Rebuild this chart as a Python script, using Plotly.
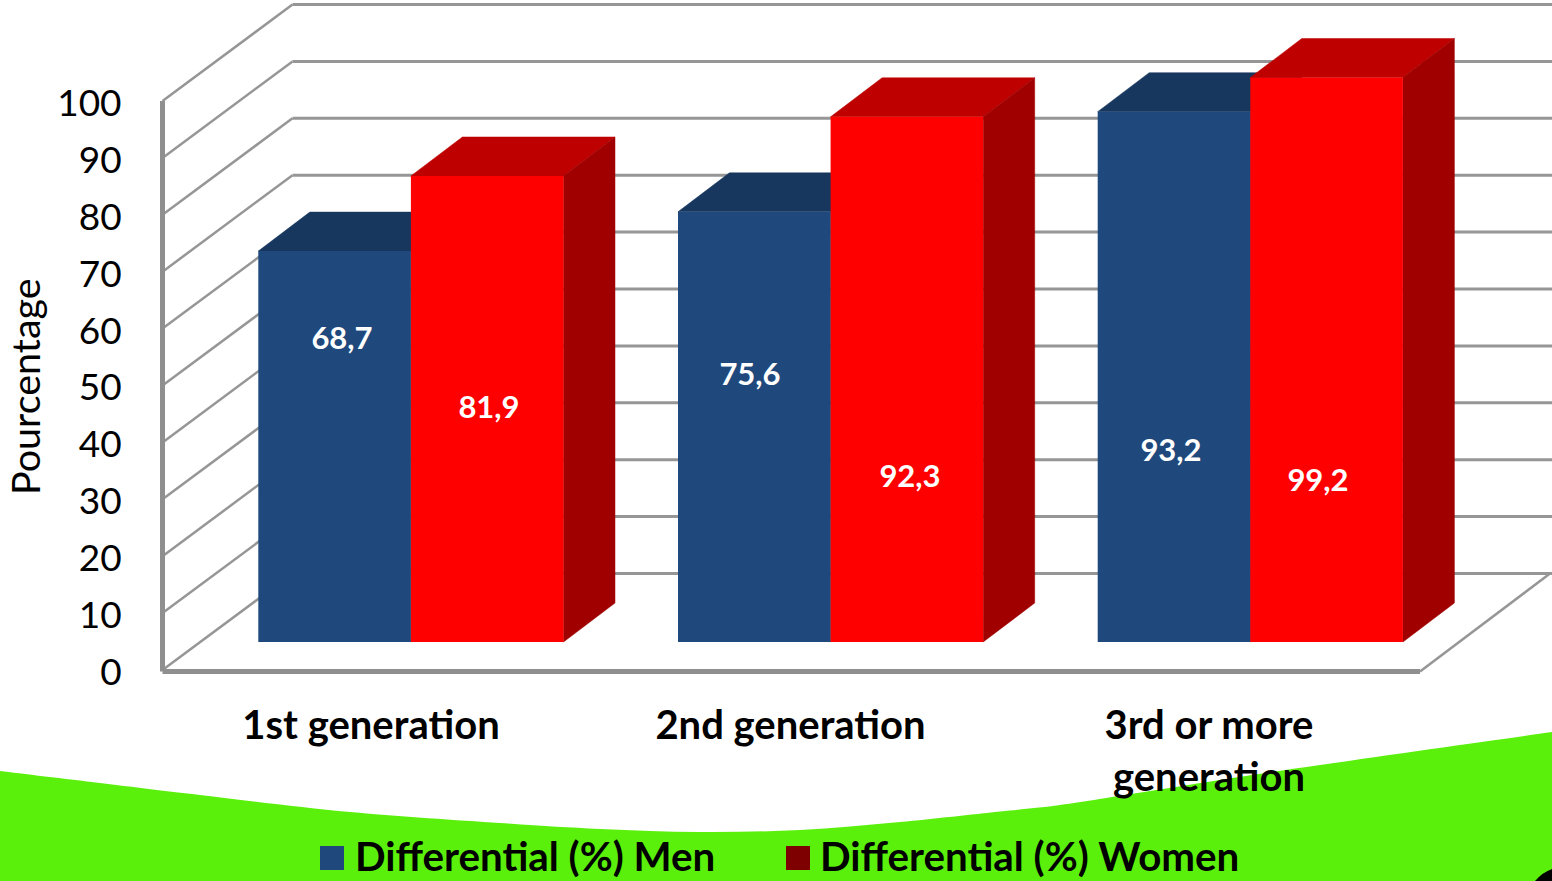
import plotly.graph_objects as go

# ---- data ----
categories = ["1st generation", "2nd generation", "3rd or more<br>generation"]
men_values = [68.7, 75.6, 93.2]
women_values = [81.9, 92.3, 99.2]
men_labels = ["68,7", "75,6", "93,2"]
women_labels = ["81,9", "92,3", "99,2"]
y_ticks = [0, 10, 20, 30, 40, 50, 60, 70, 80, 90, 100]
men_name = "Differential (%) Men"
women_name = "Differential (%) Women"

# ---- geometry of the pseudo-3D box ----
W, H = 1552, 881
ML, MB = 150.0, 680.0          # plot-area left and bottom edges (px)
WALL_L = 162.5                 # px of the front-left wall edge
Y0 = 670.0                     # px of value 0 on the front plane
YS = 5.69                      # px per value unit
XS = 419.7                     # px per category
X0PX = 371.0                   # px of category 0
def xd(px): return (px - X0PX) / XS
def yd(py): return (Y0 - py) / YS
x_lo, x_hi = xd(ML), xd(W)
y_lo, y_hi = yd(MB), yd(0)
x_min = xd(WALL_L)
WALL_DX, WALL_DY = 130 / XS, 96.5 / YS
BAR_W = 152.6 / XS
BAR_DX, BAR_DY = 51.5 / XS, 39 / YS
BAR_BASE = yd(642)
MEN_L = xd(258.3)              # left edge of first men bar
LINE = "#969696"
AXIS_LINE = "#8F8F8F"
AXIS_Y = yd(671.5)
tick_px = [371, 790.5, 1209]

# pixel places of the value labels in the picture
men_label_pos = [(342, 341), (750, 377), (1171, 453)]
women_label_pos = [(489, 410), (910, 479), (1318, 483)]

fig = go.Figure()

def line(xs, ys, width, color=LINE):
    fig.add_trace(go.Scatter(x=xs, y=ys, mode="lines", hoverinfo="skip", showlegend=False,
                             line=dict(color=color, width=width)))

def poly(xs, ys, color):
    fig.add_trace(go.Scatter(x=xs + xs[:1], y=ys + ys[:1], mode="lines", fill="toself",
                             fillcolor=color, hoverinfo="skip", showlegend=False,
                             line=dict(color=color, width=0.5)))

# walls and gridlines
for v in y_ticks:
    line([x_min, x_min + WALL_DX], [v, v + WALL_DY], 2.5)
    line([x_min + WALL_DX, x_hi], [v + WALL_DY, v + WALL_DY], 3)
# floor right edge and main axes
floor_r = xd(1420)
line([floor_r, floor_r + WALL_DX], [AXIS_Y, WALL_DY], 2.5)
line([x_min, x_min], [100, AXIS_Y], 5, AXIS_LINE)
line([x_min, floor_r], [AXIS_Y, AXIS_Y], 5, AXIS_LINE)

# bars: tops and sides
def bar3d(left, value, top, side):
    base = BAR_BASE
    t = base + value
    r = left + BAR_W
    poly([left, r, r + BAR_DX, left + BAR_DX], [t, t, t + BAR_DY, t + BAR_DY], top)
    poly([r, r + BAR_DX, r + BAR_DX, r], [base, base + BAR_DY, t + BAR_DY, t], side)

for i in range(len(categories)):
    bar3d(MEN_L + i, men_values[i], "#17375E", "#17375E")
for i in range(len(categories)):
    bar3d(MEN_L + i + BAR_W, women_values[i], "#BF0000", "#A00000")

# front faces as real bars, on an overlaying pair of axes
fig.add_trace(go.Bar(x=[MEN_L + i + BAR_W / 2 for i in range(3)], y=men_values, base=BAR_BASE,
                     width=BAR_W, marker=dict(color="#1F497D", line=dict(width=0)), name=men_name,
                     xaxis="x2", yaxis="y2", showlegend=False,
                     hovertemplate="%{y}<extra>" + men_name + "</extra>"))
fig.add_trace(go.Bar(x=[MEN_L + i + 1.5 * BAR_W for i in range(3)], y=women_values, base=BAR_BASE,
                     width=BAR_W, marker=dict(color="#FF0000", line=dict(width=0)), name=women_name,
                     xaxis="x2", yaxis="y2", showlegend=False,
                     hovertemplate="%{y}<extra>" + women_name + "</extra>"))

# value labels
for labels, pos in ((men_labels, men_label_pos), (women_labels, women_label_pos)):
    fig.add_trace(go.Scatter(x=[xd(p[0]) for p in pos], y=[yd(p[1]) for p in pos], mode="text",
                             text=labels, showlegend=False, hoverinfo="skip", xaxis="x2", yaxis="y2",
                             textfont=dict(family="Lato", size=31, color="white", weight="bold")))

# green ribbon
def px(x): return (x - ML) / (W - ML)
def py(y): return (MB - y) / MB
edge = [(-20, 768), (0, 771), (100, 783), (200, 795), (350, 812), (500, 823), (600, 829), (700, 832),
        (800, 830), (900, 822), (1000, 811.5), (1060, 805), (1150, 791), (1299, 768), (1552, 732), (1572, 729)]
path = f"M {px(0)} {py(H)} L {px(0)} {py(771)} "
for k in range(1, len(edge) - 2):
    p0, p1, p2, p3 = edge[k - 1], edge[k], edge[k + 1], edge[k + 2]
    c1 = (p1[0] + (p2[0] - p0[0]) / 6, p1[1] + (p2[1] - p0[1]) / 6)
    c2 = (p2[0] - (p3[0] - p1[0]) / 6, p2[1] - (p3[1] - p1[1]) / 6)
    path += f"C {px(c1[0])} {py(c1[1])} {px(c2[0])} {py(c2[1])} {px(p2[0])} {py(p2[1])} "
path += f"L {px(W)} {py(H)} Z"
corner = f"M {px(1535)} {py(H)} Q {px(1543)} {py(872)} {px(W)} {py(869)} L {px(W)} {py(H)} Z"
shapes = [
    dict(type="path", xref="paper", yref="paper", path=path, fillcolor="#5AF00C", line=dict(width=0), layer="below"),
    dict(type="path", xref="paper", yref="paper", path=corner, fillcolor="black", line=dict(width=0), layer="below"),
]
for sx, col in ((320, "#1F497D"), (786, "#7F0000")):
    shapes.append(dict(type="rect", xref="paper", yref="paper", x0=px(sx), x1=px(sx + 24),
                       y0=py(870), y1=py(846), fillcolor=col, line=dict(width=0)))

annotations = [
    dict(text="Pourcentage", xref="paper", yref="paper", x=px(24), y=py(387), showarrow=False,
         textangle=-90, xanchor="center", yanchor="middle",
         font=dict(family="Lato", size=39.5, color="black")),
    dict(text=men_name, xref="paper", yref="paper", x=px(353), y=py(855), showarrow=False,
         xanchor="left", yanchor="middle", font=dict(family="Lato", size=40.3, color="black", weight="bold")),
    dict(text=women_name, xref="paper", yref="paper", x=px(818), y=py(855), showarrow=False,
         xanchor="left", yanchor="middle", font=dict(family="Lato", size=40.3, color="black", weight="bold")),
]

hidden = dict(visible=False, showgrid=False, zeroline=False)
fig.update_layout(
    width=W, height=H, autosize=False, showlegend=False, barmode="overlay",
    margin=dict(l=ML, r=0, t=0, b=H - MB, pad=0),
    paper_bgcolor="white", plot_bgcolor="rgba(0,0,0,0)",
    shapes=shapes, annotations=annotations,
    xaxis=dict(range=[x_lo, x_hi], tickmode="array", tickvals=[xd(p) for p in tick_px], ticktext=categories,
               showgrid=False, zeroline=False, showline=False, ticks="outside", ticklen=10,
               tickcolor="rgba(0,0,0,0)",
               tickfont=dict(family="Lato", size=40, color="black", weight="bold")),
    yaxis=dict(range=[y_lo, y_hi], tickmode="array", tickvals=y_ticks,
               showgrid=False, zeroline=False, showline=False, ticks="outside", ticklen=20,
               ticklabelshift=2, tickcolor="rgba(0,0,0,0)",
               tickfont=dict(family="Lato", size=37, color="black")),
    xaxis2=dict(range=[x_lo, x_hi], overlaying="x", anchor="y2", **hidden),
    yaxis2=dict(range=[y_lo, y_hi], overlaying="y", anchor="x2", **hidden),
)

fig.write_html("out.html", config=dict(displayModeBar=False),
               post_script="document.body.style.margin='0';document.body.style.overflow='hidden';")
